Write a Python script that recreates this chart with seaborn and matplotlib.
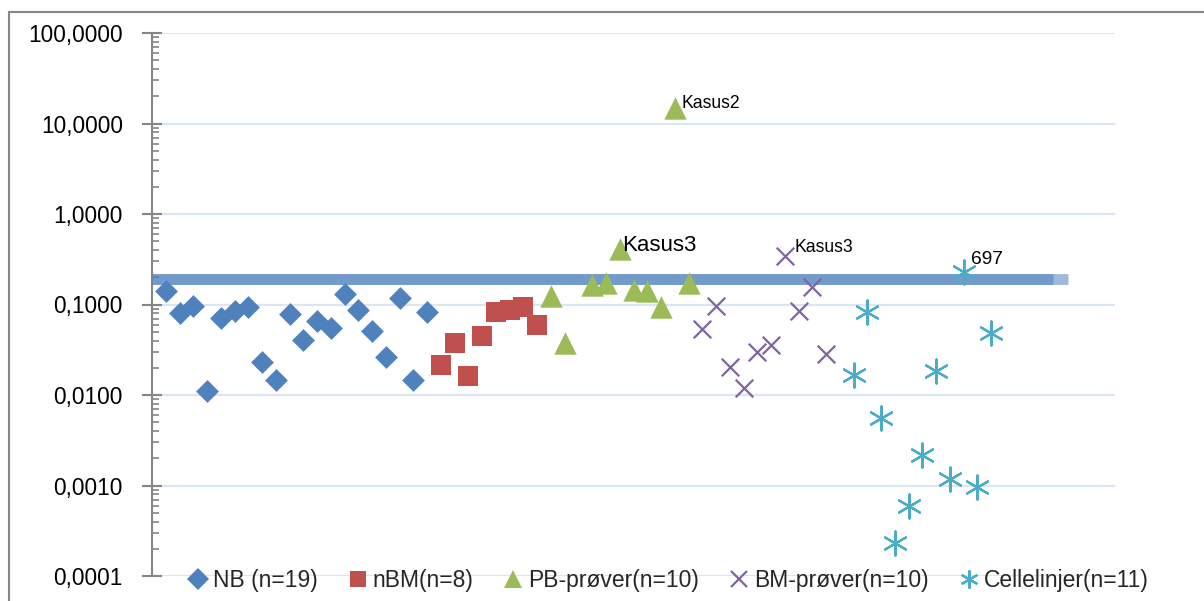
import matplotlib
matplotlib.use("Agg")
import matplotlib.pyplot as plt
import matplotlib.ticker as mticker
from matplotlib.lines import Line2D
import seaborn as sns
import pandas as pd

# ---- data ----
nb_x = list(range(1, 21))
nb_y = [0.141, 0.0805, 0.097, 0.0111, 0.071, 0.0855, 0.0947, 0.0232, 0.0147, 0.0785,
        0.0406, 0.0658, 0.055, 0.1306, 0.087, 0.0509, 0.0263, 0.118, 0.0147, 0.0826]
nbm_x = list(range(21, 29))
nbm_y = [0.0214, 0.0376, 0.0163, 0.0449, 0.0826, 0.0869, 0.0938, 0.0593]
pb_x = [29, 30, 32, 33, 34, 35, 36, 37, 38, 39]
pb_y = [0.124, 0.0378, 0.164, 0.174, 0.407, 0.1435, 0.14, 0.0927, 14.9, 0.171]
bm_x = list(range(40, 50))
bm_y = [0.0536, 0.0962, 0.0204, 0.0119, 0.0301, 0.0357, 0.344, 0.0855, 0.155, 0.0282]
cl_x = list(range(51, 62))
cl_y = [0.0166, 0.0832, 0.00553, 0.000233, 0.000598, 0.00217, 0.0186, 0.00118, 0.230,
        0.00097, 0.0488]

series_names = ["NB (n=19)", "nBM(n=8)", "PB-prøver(n=10)", "BM-prøver(n=10)", "Cellelinjer(n=11)"]
cutoff = 0.19
tick_values = [0.0001, 0.001, 0.01, 0.1, 1, 10, 100]

# annotations: (label, x, y)
ann_labels = ["Kasus2", "Kasus3", "Kasus3", "697"]
ann_x = [38, 34, 46, 59]
ann_y = [14.9, 0.407, 0.344, 0.230]

# ---- style ----
sns.set_theme(style="white")
plt.rcParams["font.family"] = ["Liberation Sans", "DejaVu Sans"]

colors = ["#4F81BD", "#C0504D", "#9BBB59", "#8064A2", "#4BACC6"]
markers = ["D", "s", "^", "x", (6, 2, 0)]
sizes = [135, 220, 260, 160, 300]
lws = [0.0, 0.0, 0.0, 1.6, 1.6]

frames = [
    pd.DataFrame({"x": nb_x, "y": nb_y}),
    pd.DataFrame({"x": nbm_x, "y": nbm_y}),
    pd.DataFrame({"x": pb_x, "y": pb_y}),
    pd.DataFrame({"x": bm_x, "y": bm_y}),
    pd.DataFrame({"x": cl_x, "y": cl_y}),
]

fig = plt.figure(figsize=(12.04, 6.01), dpi=100)
ax = fig.add_axes([152 / 1204, 1 - 576 / 601, (1115 - 152) / 1204, (576 - 33) / 601])

# cutoff band (two overlapping semi-transparent strokes)
ax.plot([0, 65.5], [cutoff, cutoff], color="#4F81BD", lw=7.8, alpha=0.55,
        solid_capstyle="butt", zorder=3)
ax.plot([0, 66.6], [cutoff * 1.01, cutoff * 1.01], color="#4F81BD", lw=7.8, alpha=0.55,
        solid_capstyle="butt", zorder=3)

handles = []
for df, name, c, m, s, lw in zip(frames, series_names, colors, markers, sizes, lws):
    sns.scatterplot(data=df, x="x", y="y", color=c, marker=m, s=s, linewidth=lw,
                    ax=ax, zorder=4, legend=False)
    handles.append(Line2D([], [], color=c, marker=m, linestyle="none",
                          markersize={"D": 11, "s": 12, "^": 13, "x": 12}.get(m, 13),
                          markeredgewidth=0 if lw == 0 else 1.6,
                          markerfacecolor=c, markeredgecolor=c))

ax.set_yscale("log")
ax.set_ylim(0.0001, 100)
ax.set_xlim(0, 70)
ax.set_xlabel("")
ax.set_ylabel("")

ax.yaxis.set_major_locator(mticker.FixedLocator(tick_values))
ax.yaxis.set_major_formatter(mticker.FuncFormatter(lambda v, p: f"{v:.4f}".replace(".", ",")))
ax.yaxis.set_minor_locator(mticker.LogLocator(base=10, subs=range(2, 10), numticks=20))
ax.yaxis.set_minor_formatter(mticker.NullFormatter())
ax.tick_params(axis="y", which="major", direction="inout", length=14, width=1.5,
               color="#868686", labelsize=16.3, labelcolor="black", pad=14, left=True)
ax.tick_params(axis="y", which="minor", direction="in", length=5, width=1.2,
               color="#868686", left=True)
ax.tick_params(axis="x", which="both", bottom=False, labelbottom=False)

ax.grid(axis="y", which="major", color="#DCE5F2", lw=1.6, zorder=0)
ax.grid(axis="x", visible=False)
for side in ["top", "right", "bottom"]:
    ax.spines[side].set_visible(False)
ax.spines["left"].set_color("#868686")
ax.spines["left"].set_linewidth(1.5)

# annotations
ann_offsets = [(5, 3), (2, 3), (7, 6), (5, 9)]
ann_sizes = [12.7, 16, 12.7, 13.8]
for lab, xv, yv, off, fs in zip(ann_labels, ann_x, ann_y, ann_offsets, ann_sizes):
    ax.annotate(lab, (xv, yv), xytext=off, textcoords="offset points",
                fontsize=fs, ha="left", va="center", color="black", zorder=5)

leg = fig.legend(handles, series_names, loc="center", ncol=5, frameon=False,
                 bbox_to_anchor=(667.5 / 1204, 1 - 581 / 601), fontsize=16.5,
                 handletextpad=0.15, columnspacing=1.25, handlelength=1.0,
                 borderaxespad=0)

# outer chart border
fig.add_artist(Line2D([9 / 1204, 9 / 1204], [0, 1 - 12 / 601], color="#868686", lw=1.5,
                      transform=fig.transFigure))
fig.add_artist(Line2D([9 / 1204, 1], [1 - 12 / 601, 1 - 12 / 601], color="#868686", lw=1.5,
                      transform=fig.transFigure))

fig.savefig("out.png", dpi=100)
